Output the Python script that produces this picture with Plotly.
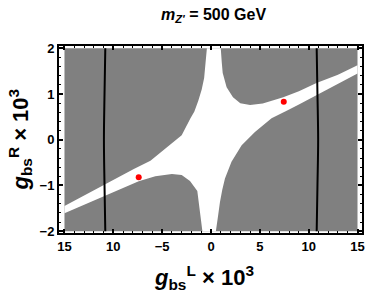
import plotly.graph_objects as go

# ---- data (units of 1e-3) ----
box_x = [-15, 15, 15, -15, -15]
box_y = [-2, -2, 2, 2, -2]

# top edge of allowed (white) region
top_x = [-0.42, 1.0]
top_y = [2.0, 2.0]
# upper-right excluded lobe boundary
ur_x = [1.0, 1.1, 1.2, 1.6, 2.25, 3.0, 4.0, 5.3, 6.3, 7.4, 9.0, 10.8, 13.0, 15.0]
ur_y = [2.0, 1.7, 1.46, 1.15, 0.93, 0.80, 0.76, 0.79, 0.85, 0.93, 1.06, 1.24, 1.42, 1.63]
# lower-right excluded region boundary
lr_x = [15.0, 13.0, 10.7, 9.0, 7.9, 6.2, 4.5, 3.14, 2.1, 1.43, 1.15, 0.92, 0.7, 0.5]
lr_y = [1.45, 1.22, 0.95, 0.77, 0.65, 0.47, 0.17, -0.12, -0.48, -0.85, -1.1, -1.36, -1.7, -2.0]
# lower-left excluded lobe boundary
ll_x = [-0.88, -1.05, -1.2, -1.4, -2.15, -3.0, -4.0, -5.7, -7.4, -9.0, -10.85, -13.0, -15.0]
ll_y = [-2.0, -1.7, -1.46, -1.12, -0.9, -0.77, -0.75, -0.8, -0.91, -1.06, -1.23, -1.42, -1.61]
# upper-left excluded region boundary
ul_x = [-15.0, -13.0, -10.85, -9.0, -7.9, -6.2, -4.5, -3.0, -2.1, -1.7, -1.3, -0.95, -0.7, -0.55, -0.42]
ul_y = [-1.45, -1.22, -0.98, -0.77, -0.64, -0.46, -0.16, 0.1, 0.47, 0.62, 0.85, 1.1, 1.35, 1.65, 2.0]

# two near-vertical black contours
left_line_x = [-10.82, -10.9, -10.96, -10.9, -10.82]
right_line_x = [10.82, 10.9, 10.97, 10.9, 10.82]
line_y = [-2, -1, 0, 1, 2]

# red benchmark points
pts_x = [7.45, -7.4]
pts_y = [0.83, -0.82]

xtick_vals = [-15, -10, -5, 0, 5, 10, 15]
xtick_text = ["15", "10", "\u22125", "0", "5", "10", "15"]
ytick_vals = [-2, -1, 0, 1, 2]
ytick_text = ["\u22122", "\u22121", "0", "1", "2"]

white_x = top_x + ur_x + lr_x + ll_x + ul_x
white_y = top_y + ur_y + lr_y + ll_y + ul_y

fig = go.Figure()
fig.add_trace(go.Scatter(x=box_x, y=box_y, fill="toself", fillcolor="#808080",
                         line=dict(width=0), mode="lines", hoverinfo="skip"))
fig.add_trace(go.Scatter(x=white_x, y=white_y, fill="toself", fillcolor="white",
                         line=dict(width=0, color="white"), mode="lines", hoverinfo="skip"))
for lx in (left_line_x, right_line_x):
    fig.add_trace(go.Scatter(x=lx, y=line_y, mode="lines",
                             line=dict(color="black", width=2, shape="spline")))
fig.add_trace(go.Scatter(x=pts_x, y=pts_y, mode="markers",
                         marker=dict(color="#ff0000", size=6)))

tickfont = dict(family="Liberation Sans", size=13, color="black", weight="bold")
axis_common = dict(showgrid=False, zeroline=False, showline=True, mirror="allticks",
                   linecolor="black", linewidth=2, ticks="inside", ticklen=4,
                   tickwidth=1.5, tickcolor="black", tickfont=tickfont, automargin=False)

fig.update_xaxes(range=[-15.56, 15.46], tickvals=xtick_vals, ticktext=xtick_text,
                 minor=dict(ticks="inside", dtick=1, ticklen=2, tickcolor="black", tickwidth=1),
                 **axis_common)
fig.update_yaxes(range=[-2.04, 2.05], tickvals=ytick_vals, ticktext=ytick_text,
                 minor=dict(ticks="inside", dtick=0.2, ticklen=2, tickcolor="black", tickwidth=1),
                 **axis_common)

big = dict(family="Liberation Sans", size=22, color="black", weight="bold")
fig.update_layout(
    width=366, height=294, autosize=False,
    margin=dict(l=59, r=4, t=46, b=61),
    paper_bgcolor="white", plot_bgcolor="white",
    showlegend=False,
    annotations=[
        dict(text="<i>m</i><sub><i>Z'</i></sub> = 500 GeV", xref="paper", yref="paper",
             x=0.51, y=1.0, yshift=31, xanchor="center", yanchor="middle", showarrow=False,
             font=dict(family="Liberation Sans", size=16, color="black", weight="bold")),
        dict(text="<i>g</i><sub>bs</sub><sup>L</sup> \u00d7 10<sup>3</sup>", xref="paper", yref="paper",
             x=0.48, y=0, yshift=-44, xanchor="center", yanchor="middle", showarrow=False,
             font=big),
        dict(text="<i>g</i><sub>bs</sub><sup>R</sup> \u00d7 10<sup>3</sup>", xref="paper", yref="paper",
             x=0, xshift=-39, y=0.5, xanchor="center", yanchor="middle", showarrow=False,
             textangle=-90, font=big),
    ],
)
fig.write_html("out.html", config={"displayModeBar": False},
               post_script="document.body.style.margin='0';")
